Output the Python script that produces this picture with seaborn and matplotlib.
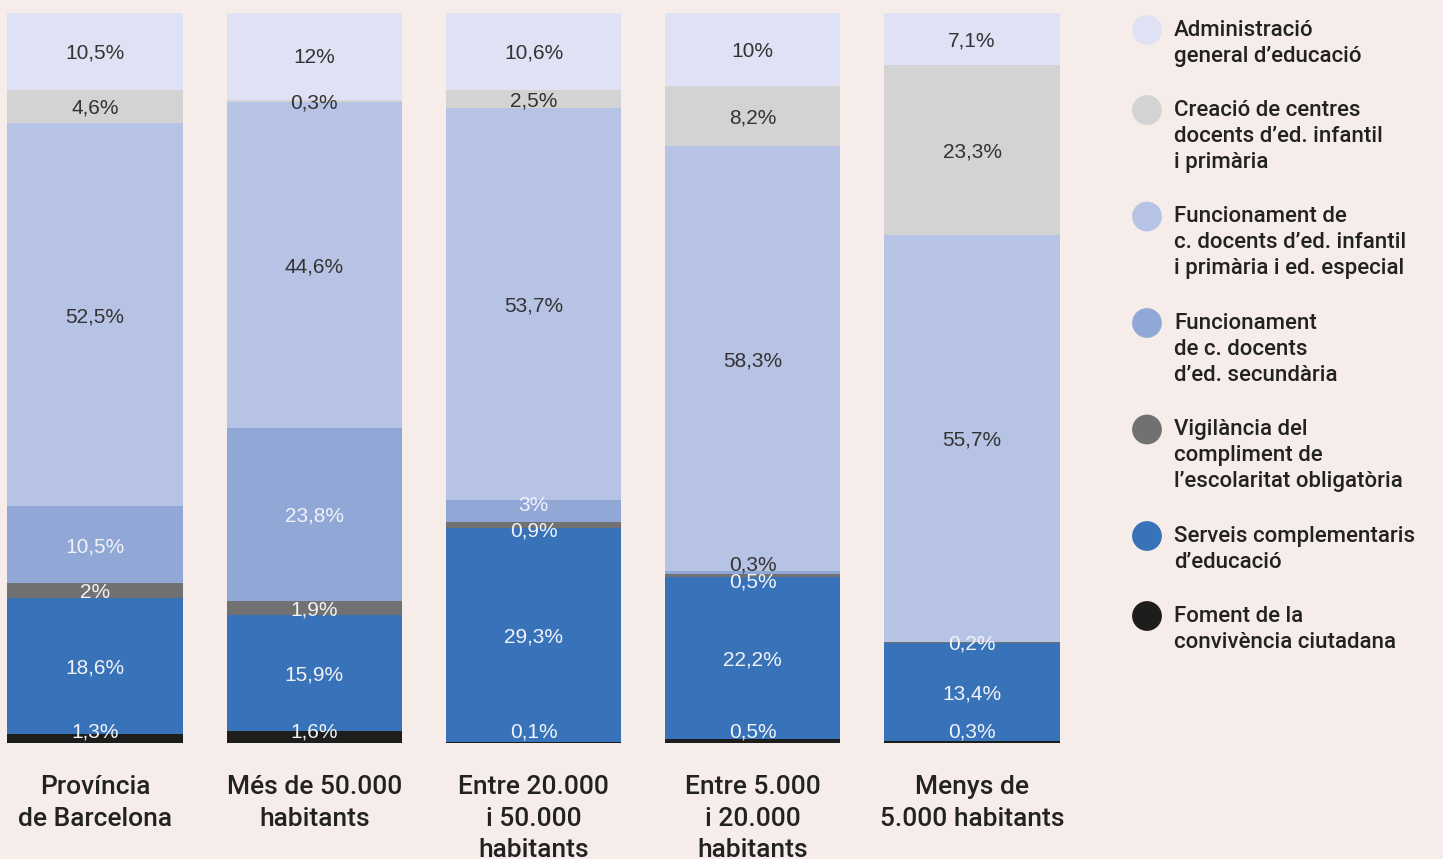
import numpy as np
import pandas as pd
import matplotlib
matplotlib.use('Agg')
import matplotlib.pyplot as plt
import seaborn as sns

# groups (x axis) and the seven budget concepts, top of the bar first
grups = ['Província\nde Barcelona', 'Més de 50.000\nhabitants',
         'Entre 20.000\ni 50.000\nhabitants', 'Entre 5.000\ni 20.000\nhabitants',
         'Menys de\n5.000 habitants']

conceptes = ['Administració\ngeneral d’educació',
             'Creació de centres\ndocents d’ed. infantil\ni primària',
             'Funcionament de\nc. docents d’ed. infantil\ni primària i ed. especial',
             'Funcionament\nde c. docents\nd’ed. secundària',
             'Vigilància del\ncompliment de\nl’escolaritat obligatòria',
             'Serveis complementaris\nd’educació',
             'Foment de la\nconvivència ciutadana']

administracio = [10.5, 12, 10.6, 10, 7.1]
creacio = [4.6, 0.3, 2.5, 8.2, 23.3]
func_primaria = [52.5, 44.6, 53.7, 58.3, 55.7]
func_secundaria = [10.5, 23.8, 3, 0.3, 0]
vigilancia = [2, 1.9, 0.9, 0.5, 0.2]
serveis = [18.6, 15.9, 29.3, 22.2, 13.4]
foment = [1.3, 1.6, 0.1, 0.5, 0.3]

colors = ['#dfe1f4', '#d3d3d3', '#b7c3e5', '#91a7d6', '#717171', '#3873ba', '#1d1d1b']
bg = '#f6ece9'

segments = np.array([administracio, creacio, func_primaria, func_secundaria,
                     vigilancia, serveis, foment])
# cumulative height from the bottom for each concept
tops = segments[::-1].cumsum(axis=0)[::-1]

sns.set_theme(style='white')
plt.rcParams['font.family'] = ['Roboto', 'DejaVu Sans']

fig = plt.figure(figsize=(14.43, 8.59), dpi=100, facecolor=bg)
ax = fig.add_axes([0, 0.135, 1100 / 1443, 0.85])
ax.set_facecolor(bg)

# draw the tallest cumulative bar first, then the shorter ones over it
for i in range(len(conceptes)):
    df = pd.DataFrame({'grup': grups, 'valor': tops[i]})
    sns.barplot(data=df, x='grup', y='valor', order=grups, color=colors[i],
                saturation=1, width=0.8, errorbar=None, linewidth=0,
                edgecolor='none', ax=ax)

ax.set_xlim(-95 / 219.25, (1100 - 95) / 219.25)
ax.set_ylim(0, 100)
ax.set_xlabel('')
ax.set_ylabel('')
ax.set_yticks([])
sns.despine(ax=ax, left=True, bottom=True)
ax.tick_params(axis='x', length=0, pad=23, labelsize=19, labelcolor='#222222')
for t in ax.get_xticklabels():
    t.set_fontweight('medium')
    t.set_linespacing(1.4)

# label nudges (pixels) for thin segments: (bar, concept): (dy, colour)
nudges = {(2, 3): (7, None), (2, 4): (-4, None),
          (3, 3): (10, '#333333'), (3, 4): (-5, None)}
px = 730 / 100
for i in range(len(conceptes)):
    for j in range(len(grups)):
        v = segments[i, j]
        if v <= 0:
            continue
        y = tops[i, j] - v / 2
        if i == len(conceptes) - 1:
            y = max(y, 1.8)
        col = '#333333' if i < 3 else '#f2f3f8'
        dy, c2 = nudges.get((j, i), (0, None))
        y += dy / px
        if c2:
            col = c2
        txt = f'{v:g}'.replace('.', ',') + '%'
        ax.text(j, y, txt, ha='center', va='center_baseline', fontsize=15,
                family='Liberation Sans', color=col)

# legend with circle markers on the right
lax = fig.add_axes([0, 0, 1, 1])
lax.set_xlim(0, 1443)
lax.set_ylim(859, 0)
lax.axis('off')
y0 = 28
line_h = 26.5
for i, lab in enumerate(conceptes):
    n = lab.count('\n') + 1
    lax.scatter([1147], [y0 + 2], s=460, color=colors[i], edgecolor='none')
    lax.text(1174, y0 - 8, lab, ha='left', va='top', fontsize=16,
             fontweight='medium', color='#222222', linespacing=1.3)
    y0 += n * line_h + 27

fig.savefig('out.png', dpi=100, facecolor=bg)
